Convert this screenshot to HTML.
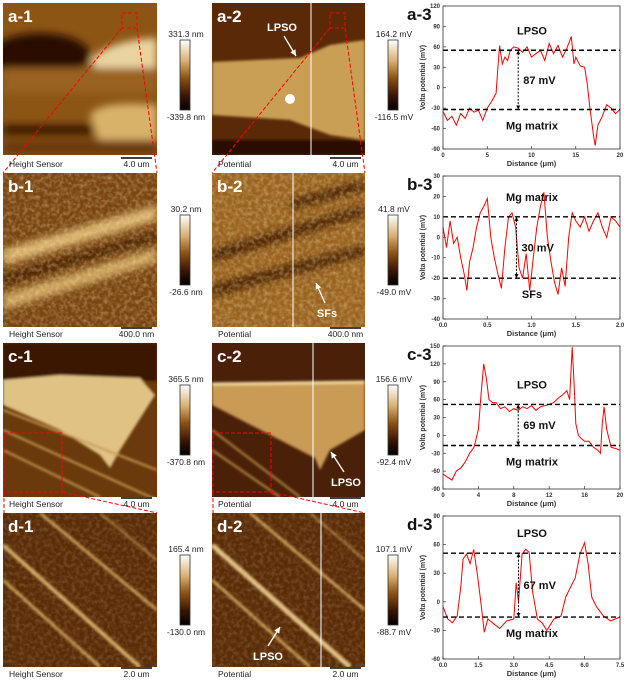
<!DOCTYPE html>
<html><head><meta charset="utf-8"><style>
body{margin:0;background:#fff;width:626px;height:682px;overflow:hidden;font-family:"Liberation Sans",sans-serif}
svg{display:block}
</style></head><body>
<svg id="fig" width="626" height="682" viewBox="0 0 626 682" xmlns="http://www.w3.org/2000/svg">
<defs>
<linearGradient id="cbar" x1="0" y1="0" x2="0" y2="1"><stop offset="0" stop-color="#fff"/><stop offset="0.3" stop-color="#d8b070"/><stop offset="0.55" stop-color="#8a5010"/><stop offset="0.8" stop-color="#3a1504"/><stop offset="1" stop-color="#000"/></linearGradient>
<filter id="tex"><feTurbulence type="fractalNoise" baseFrequency="0.25" numOctaves="2" seed="3"/><feColorMatrix values="0 0 0 0 0.95  0 0 0 0 0.8  0 0 0 0 0.5  0 0 0 1.2 -0.45"/><feComposite in2="SourceGraphic" operator="in"/></filter>
<filter id="blur4"><feGaussianBlur stdDeviation="4"/></filter>
<filter id="blur1"><feGaussianBlur stdDeviation="1.2"/></filter>
<clipPath id="cA1"><rect x="3" y="3" width="154" height="152"/></clipPath>
<clipPath id="cA2"><rect x="212" y="3" width="153" height="152"/></clipPath>
<clipPath id="cB1"><rect x="3" y="173" width="154" height="154"/></clipPath>
<clipPath id="cB2"><rect x="212" y="173" width="153" height="154"/></clipPath>
<clipPath id="cC1"><rect x="3" y="343" width="154" height="154"/></clipPath>
<clipPath id="cC2"><rect x="212" y="343" width="153" height="154"/></clipPath>
<clipPath id="cD1"><rect x="3" y="513" width="154" height="154"/></clipPath>
<clipPath id="cD2"><rect x="212" y="513" width="153" height="154"/></clipPath>
</defs>

<!-- a-1 -->
<g clip-path="url(#cA1)">
<rect x="3" y="3" width="154" height="152" fill="#8c5514"/>
<g filter="url(#blur4)">
<ellipse cx="40" cy="55" rx="50" ry="22" fill="#2a0e02"/>
<path d="M90 60 Q110 40 157 38 L157 68 L95 68Z" fill="#e9d4a0"/>
<rect x="3" y="68" width="154" height="25" fill="#9a6220"/>
<path d="M90 115 Q100 100 157 105 L157 145 L100 145Z" fill="#d9b26a"/>
<rect x="3" y="125" width="90" height="10" fill="#3a1806"/>
<rect x="3" y="140" width="154" height="15" fill="#6a3a0c"/>
</g></g>
<!-- a-2 -->
<g clip-path="url(#cA2)">
<rect x="212" y="3" width="153" height="152" fill="#5a2a08"/>
<g filter="url(#blur1)">
<path d="M212 62 L300 58 L330 45 L365 40 L365 140 L330 135 L290 120 L212 115Z" fill="#c99f55"/>
<rect x="212" y="140" width="153" height="15" fill="#2a0d02"/>
</g>
<circle cx="290" cy="99" r="5" fill="#fff"/>
<line x1="311" y1="3" x2="311" y2="155" stroke="#fff" stroke-width="1"/>
</g>
<!-- b-1 -->
<g clip-path="url(#cB1)">
<rect x="3" y="173" width="154" height="154" fill="#7a4510"/>
<g filter="url(#blur4)">
<path d="M3 250 L157 205 L157 220 L3 265Z" fill="#dcb670"/>
<path d="M3 295 L157 248 L157 262 L3 310Z" fill="#d0a860"/>
<path d="M3 275 L157 232 L157 240 L3 285Z" fill="#4a2006"/>
</g>
<rect x="3" y="173" width="154" height="154" fill="#fff" filter="url(#tex)" opacity="0.6"/>
</g>
<!-- b-2 -->
<g clip-path="url(#cB2)">
<rect x="212" y="173" width="153" height="154" fill="#9a6420"/>
<g filter="url(#blur4)">
<path d="M212 250 L365 205 L365 215 L212 262Z" fill="#4a2006"/>
<path d="M212 285 L365 245 L365 255 L212 297Z" fill="#4a2006"/>
<path d="M290 200 L365 180 L365 190 L290 210Z" fill="#4a2006"/>
</g>
<rect x="212" y="173" width="153" height="154" fill="#fff" filter="url(#tex)" opacity="0.6"/>
<line x1="293" y1="173" x2="293" y2="327" stroke="#fff" stroke-width="1"/>
</g>
<!-- c-1 -->
<g clip-path="url(#cC1)">
<rect x="3" y="343" width="154" height="154" fill="#6a3a0c"/>
<g filter="url(#blur1)">
<rect x="3" y="343" width="154" height="38" fill="#3a1806"/>
<path d="M3 380 L60 375 L140 378 L155 395 L120 450 L110 468 L100 455 L60 430 L3 405Z" fill="#e0c285"/>
<path d="M3 410 L157 470" stroke="#c89a50" stroke-width="2"/>
<path d="M3 430 L157 500" stroke="#c89a50" stroke-width="2"/>
<path d="M3 450 L100 497" stroke="#c89a50" stroke-width="2"/>
</g></g>
<!-- c-2 -->
<g clip-path="url(#cC2)">
<rect x="212" y="343" width="153" height="154" fill="#4a2008"/>
<g filter="url(#blur1)">
<path d="M212 384 L365 382 L365 430 L330 450 L320 470 L315 458 L280 440 L212 405Z" fill="#c99b55"/>
<path d="M212 384 L365 382" stroke="#f0dca0" stroke-width="3"/>
<path d="M212 430 L300 497" stroke="#b88a40" stroke-width="2"/>
<path d="M212 450 L280 497" stroke="#b88a40" stroke-width="2"/>
</g>
<line x1="313" y1="343" x2="313" y2="497" stroke="#fff" stroke-width="1"/>
</g>
<!-- d-1 -->
<g clip-path="url(#cD1)">
<rect x="3" y="513" width="154" height="154" fill="#5a2c08"/>
<g filter="url(#blur1)">
<path d="M40 513 L157 610" stroke="#c89a50" stroke-width="3"/>
<path d="M3 545 L140 667" stroke="#d0a860" stroke-width="4"/>
<path d="M3 580 L100 667" stroke="#c89a50" stroke-width="3"/>
<path d="M100 513 L157 560" stroke="#b08040" stroke-width="2"/>
</g>
<rect x="3" y="513" width="154" height="154" fill="#fff" filter="url(#tex)" opacity="0.3"/>
</g>
<!-- d-2 -->
<g clip-path="url(#cD2)">
<rect x="212" y="513" width="153" height="154" fill="#5a2c08"/>
<g filter="url(#blur1)">
<path d="M250 513 L365 610" stroke="#c89a50" stroke-width="3"/>
<path d="M212 545 L350 667" stroke="#e0c080" stroke-width="5"/>
<path d="M212 580 L310 667" stroke="#c89a50" stroke-width="3"/>
<path d="M310 513 L365 560" stroke="#b08040" stroke-width="2"/>
</g>
<rect x="212" y="513" width="153" height="154" fill="#fff" filter="url(#tex)" opacity="0.3"/>
<line x1="321" y1="513" x2="321" y2="667" stroke="#fff" stroke-width="1"/>
</g>

<!-- zoom boxes -->
<g fill="none" stroke="#f00" stroke-width="1" stroke-dasharray="4,2">
<rect x="122" y="13" width="15" height="15"/><line x1="122" y1="28" x2="3" y2="173"/><line x1="137" y1="28" x2="157" y2="173"/>
<rect x="330" y="13" width="15" height="15"/><line x1="330" y1="28" x2="212" y2="173"/><line x1="345" y1="28" x2="365" y2="173"/>
<rect x="4" y="433" width="58" height="59"/><line x1="4" y1="492" x2="4" y2="513"/><line x1="62" y1="492" x2="157" y2="513"/>
<rect x="213" y="433" width="58" height="59"/><line x1="213" y1="492" x2="213" y2="513"/><line x1="271" y1="492" x2="365" y2="513"/>
</g>
<g id="labels"></g>
<g id="charts"></g>
</svg>
<script>
const NS="http://www.w3.org/2000/svg";
const fig=document.getElementById('fig');
function mk(tag,attrs,parent,text){const e=document.createElementNS(NS,tag);for(const k in attrs)e.setAttribute(k,attrs[k]);if(text!==undefined)e.textContent=text;parent.appendChild(e);return e;}
const L=document.getElementById('labels');
// panel image labels
const rowTops=[3,173,343,513];
const letters=['a','b','c','d'];
const cbTop=[40,215,385,555];
const cb1=[['331.3 nm','-339.8 nm'],['30.2 nm','-26.6 nm'],['365.5 nm','-370.8 nm'],['165.4 nm','-130.0 nm']];
const cb2=[['164.2 mV','-116.5 mV'],['41.8 mV','-49.0 mV'],['156.6 mV','-92.4 mV'],['107.1 mV','-88.7 mV']];
const scl=['4.0 um','400.0 nm','4.0 um','2.0 um'];
for(let r=0;r<4;r++){
  const y0=rowTops[r];
  let t=mk('text',{x:8,y:y0+19,fill:'#fff','font-size':17,'font-weight':'bold'},L,letters[r]+'-1');
  
  
  t=mk('text',{x:217,y:y0+19,fill:'#fff','font-size':17,'font-weight':'bold'},L,letters[r]+'-2');
  
  
  const ly=y0+164;
  mk('text',{x:9,y:ly,'font-size':8.5,fill:'#222'},L,'Height Sensor');
  mk('text',{x:218,y:ly,'font-size':8.5,fill:'#222'},L,'Potential');
  for(const bx of [121,330]){
    const sb=mk('line',{x1:bx,y1:y0+155,x2:bx+31,y2:y0+155,stroke:'#000','stroke-width':1.5},L);
    
    
    mk('text',{x:bx+15.5,y:ly,'font-size':8.5,'text-anchor':'middle',fill:'#222'},L,scl[r]);
  }
  const ct=cbTop[r];
  for(const [cx,labs] of [[180,cb1[r]],[388,cb2[r]]]){
    const cb=mk('rect',{x:cx,y:ct,width:10,height:70,fill:'url(#cbar)',stroke:'#333','stroke-width':0.8},L);
    
    
    mk('text',{x:cx+6,y:ct-3,'font-size':8.5,'text-anchor':'middle',fill:'#222'},L,labs[0]);
    mk('text',{x:cx+6,y:ct+80,'font-size':8.5,'text-anchor':'middle',fill:'#222'},L,labs[1]);
  }
}
// annotations
function ann(x,y,txt,ax1,ay1,ax2,ay2,name){
  const t=mk('text',{x:x,y:y,fill:'#fff','font-size':11,'font-weight':'bold','text-anchor':'middle'},L,txt);
  
  
  mk('line',{x1:ax1,y1:ay1,x2:ax2,y2:ay2,stroke:'#fff','stroke-width':1.3},L);
  const dx=ax2-ax1,dy=ay2-ay1,l=Math.hypot(dx,dy),ux=dx/l,uy=dy/l;
  mk('polygon',{points:`${ax2},${ay2} ${ax2-ux*6-uy*3},${ay2-uy*6+ux*3} ${ax2-ux*6+uy*3},${ay2-uy*6-ux*3}`,fill:'#fff'},L);
}
ann(282,31,'LPSO',284,36,296,56,'lpso-annotation-a2');
ann(327,317,'SFs',325,303,316,283,'sfs-annotation-b2');
ann(346,486,'LPSO',344,472,331,452,'lpso-annotation-c2');
ann(268,660,'LPSO',268,646,280,627,'lpso-annotation-d2');

// ---------- chart data ----------
const aX=[0,0.5,1,1.5,2,2.5,3,3.5,4,4.5,5,5.5,6,6.2,6.4,6.7,7,7.3,7.6,8,8.5,9,9.5,10,10.5,11,11.5,12,12.5,13,13.5,14,14.5,14.8,15,15.5,16,16.3,16.6,17,17.2,17.5,18,18.5,19,19.5,20];
const aY=[-35,-48,-42,-55,-38,-45,-30,-36,-33,-48,-30,-20,-8,30,62,35,45,40,55,60,58,52,60,45,50,55,40,65,50,62,45,58,75,35,45,32,30,5,-30,-70,-85,-55,-42,-25,-30,-38,-32];
const aLines=[55,-32], aArrowX=8.5;
const bX=[0,0.04,0.08,0.12,0.16,0.2,0.24,0.27,0.3,0.34,0.38,0.42,0.46,0.5,0.54,0.58,0.62,0.66,0.7,0.74,0.78,0.82,0.86,0.9,0.94,0.98,1.02,1.06,1.1,1.14,1.18,1.22,1.26,1.3,1.34,1.38,1.42,1.46,1.5,1.55,1.6,1.65,1.7,1.75,1.8,1.85,1.9,1.95,2.0];
const bY=[5,-5,8,-3,0,-10,-18,-26,-12,-5,5,12,15,19,0,-10,-18,-25,-5,10,12,5,-15,-20,-8,-26,-10,5,15,22,0,-12,-22,-28,-15,-24,0,12,8,5,10,3,8,12,5,0,10,8,5];
const bLines=[10,-20], bArrowX=0.83;
const cX=[0,0.5,1,1.5,2,2.5,3,3.5,4,4.3,4.6,4.9,5.2,5.6,6,6.5,7,7.5,8,8.5,9,9.5,10,10.5,11,11.5,12,12.5,13,13.5,14,14.3,14.6,14.8,15,15.3,15.6,16,16.5,17,17.5,17.8,18,18.2,18.5,19,19.5,20];
const cY=[-65,-70,-75,-60,-55,-45,-30,-20,10,70,120,95,60,55,55,45,48,40,45,42,48,45,50,42,48,50,52,55,62,68,75,60,148,90,20,0,-5,-10,-10,-20,-25,-30,20,48,10,-20,-22,-25];
const cLines=[52,-17], cArrowX=8.5;
const dX=[0,0.2,0.4,0.6,0.75,0.85,1,1.15,1.3,1.45,1.6,1.75,1.9,2.1,2.4,2.7,3.0,3.1,3.2,3.35,3.5,3.65,3.8,4.0,4.2,4.4,4.7,5.0,5.2,5.4,5.6,5.8,6.0,6.15,6.3,6.5,6.8,7.1,7.3,7.5];
const dY=[-5,-18,-22,-15,15,45,50,40,55,30,0,-32,-18,-22,-28,-20,-18,20,0,50,55,52,10,-18,-22,-30,-18,-15,5,15,25,50,62,40,5,-5,-15,-20,-18,-16];
const dLines=[51,-16], dArrowX=3.2;

const aYt=[-90,-60,-30,0,30,60,90,120], aXt=[0,5,10,15,20], aXl=['0','5','10','15','20'];
const bYt=[-40,-30,-20,-10,0,10,20,30], bXt=[0,0.5,1,1.5,2], bXl=['0.0','0.5','1.0','1.5','2.0'];
const cYt=[-90,-60,-30,0,30,60,90,120,150], cXt=[0,4,8,12,16,20], cXl=['0','4','8','12','16','20'];
const dYt=[-60,-30,0,30,60,90], dXt=[0,1.5,3,4.5,6,7.5], dXl=['0.0','1.5','3.0','4.5','6.0','7.5'];

const charts=[
 {id:'a',top:6,xs:aX,ys:aY,lines:aLines,arrow:aArrowX,yt:aYt,xt:aXt,xl:aXl,xmax:20,diff:'87 mV',up:'LPSO',down:'Mg matrix'},
 {id:'b',top:176,xs:bX,ys:bY,lines:bLines,arrow:bArrowX,yt:bYt,xt:bXt,xl:bXl,xmax:2,diff:'30 mV',up:'Mg matrix',down:'SFs'},
 {id:'c',top:346,xs:cX,ys:cY,lines:cLines,arrow:cArrowX,yt:cYt,xt:cXt,xl:cXl,xmax:20,diff:'69 mV',up:'LPSO',down:'Mg matrix'},
 {id:'d',top:516,xs:dX,ys:dY,lines:dLines,arrow:dArrowX,yt:dYt,xt:dXt,xl:dXl,xmax:7.5,diff:'67 mV',up:'LPSO',down:'Mg matrix'}
];
const C=document.getElementById('charts');
const PL=443,PR=620,PH=143;
charts.forEach(ch=>{
  const g=mk('g',{},C);
  
  
  const ymin=ch.yt[0],ymax=ch.yt[ch.yt.length-1];
  const sx=v=>PL+(v/ch.xmax)*(PR-PL);
  const sy=v=>ch.top+PH-(v-ymin)/(ymax-ymin)*PH;
  const pt=mk('text',{x:407,y:ch.top+14,'font-size':17,'font-weight':'bold',fill:'#111'},g,ch.id+'-3');
  
  
  ch.yt.forEach(v=>{
    mk('line',{x1:PL,y1:sy(v),x2:PL+3,y2:sy(v),stroke:'#333','stroke-width':0.7},g);
    mk('text',{x:PL-3,y:sy(v)+2,'font-size':6,'font-weight':'bold','text-anchor':'end',fill:'#333'},g,String(v));
  });
  ch.xt.forEach((v,i)=>{
    mk('line',{x1:sx(v),y1:ch.top+PH,x2:sx(v),y2:ch.top+PH-3,stroke:'#333','stroke-width':0.7},g);
    mk('text',{x:sx(v),y:ch.top+PH+8,'font-size':6,'font-weight':'bold','text-anchor':'middle',fill:'#333'},g,ch.xl[i]);
  });
  const xt=mk('text',{x:(PL+PR)/2,y:ch.top+PH+17,'font-size':7.5,'font-weight':'bold','text-anchor':'middle',fill:'#333'},g,'Distance (μm)');
  
  
  const yc=ch.top+PH/2;
  const yt=mk('text',{x:425,y:yc,'font-size':7,'font-weight':'bold','text-anchor':'middle',fill:'#333',transform:`rotate(-90 425 ${yc})`},g,'Volta potential (mV)');
  
  
  // series
  const d=ch.xs.map((x,i)=>(i?'L':'M')+sx(x).toFixed(1)+' '+sy(ch.ys[i]).toFixed(1)).join(' ');
  const s=mk('path',{d:d,fill:'none',stroke:'#f00','stroke-width':1},g);
  
  
  ch.lines.forEach(v=>{
    const dl=mk('line',{x1:PL,y1:sy(v),x2:PR,y2:sy(v),stroke:'#000','stroke-width':1.4,'stroke-dasharray':'5,3'},g);
    
    
  });
  const ax=sx(ch.arrow),y1=sy(ch.lines[0]),y2=sy(ch.lines[1]);
  mk('line',{x1:ax,y1:y1+3,x2:ax,y2:y2-3,stroke:'#000','stroke-width':1,'stroke-dasharray':'2,1.5'},g);
  mk('polygon',{points:`${ax},${y1} ${ax-2},${y1+4} ${ax+2},${y1+4}`,fill:'#000'},g);
  mk('polygon',{points:`${ax},${y2} ${ax-2},${y2-4} ${ax+2},${y2-4}`,fill:'#000'},g);
  mk('text',{x:ax+5,y:(y1+y2)/2+4,'font-size':11,'font-weight':'bold',fill:'#111'},g,ch.diff);
  mk('text',{x:532,y:Math.min(y1,y2)-16,'font-size':11,'font-weight':'bold','text-anchor':'middle',fill:'#111'},g,ch.up);
  mk('text',{x:532,y:Math.max(y1,y2)+20,'font-size':11,'font-weight':'bold','text-anchor':'middle',fill:'#111'},g,ch.down);
  const fr=mk('rect',{x:PL,y:ch.top,width:PR-PL,height:PH,fill:'none',stroke:'#333','stroke-width':0.8},g);
  
  
});
</script>
</body></html>
